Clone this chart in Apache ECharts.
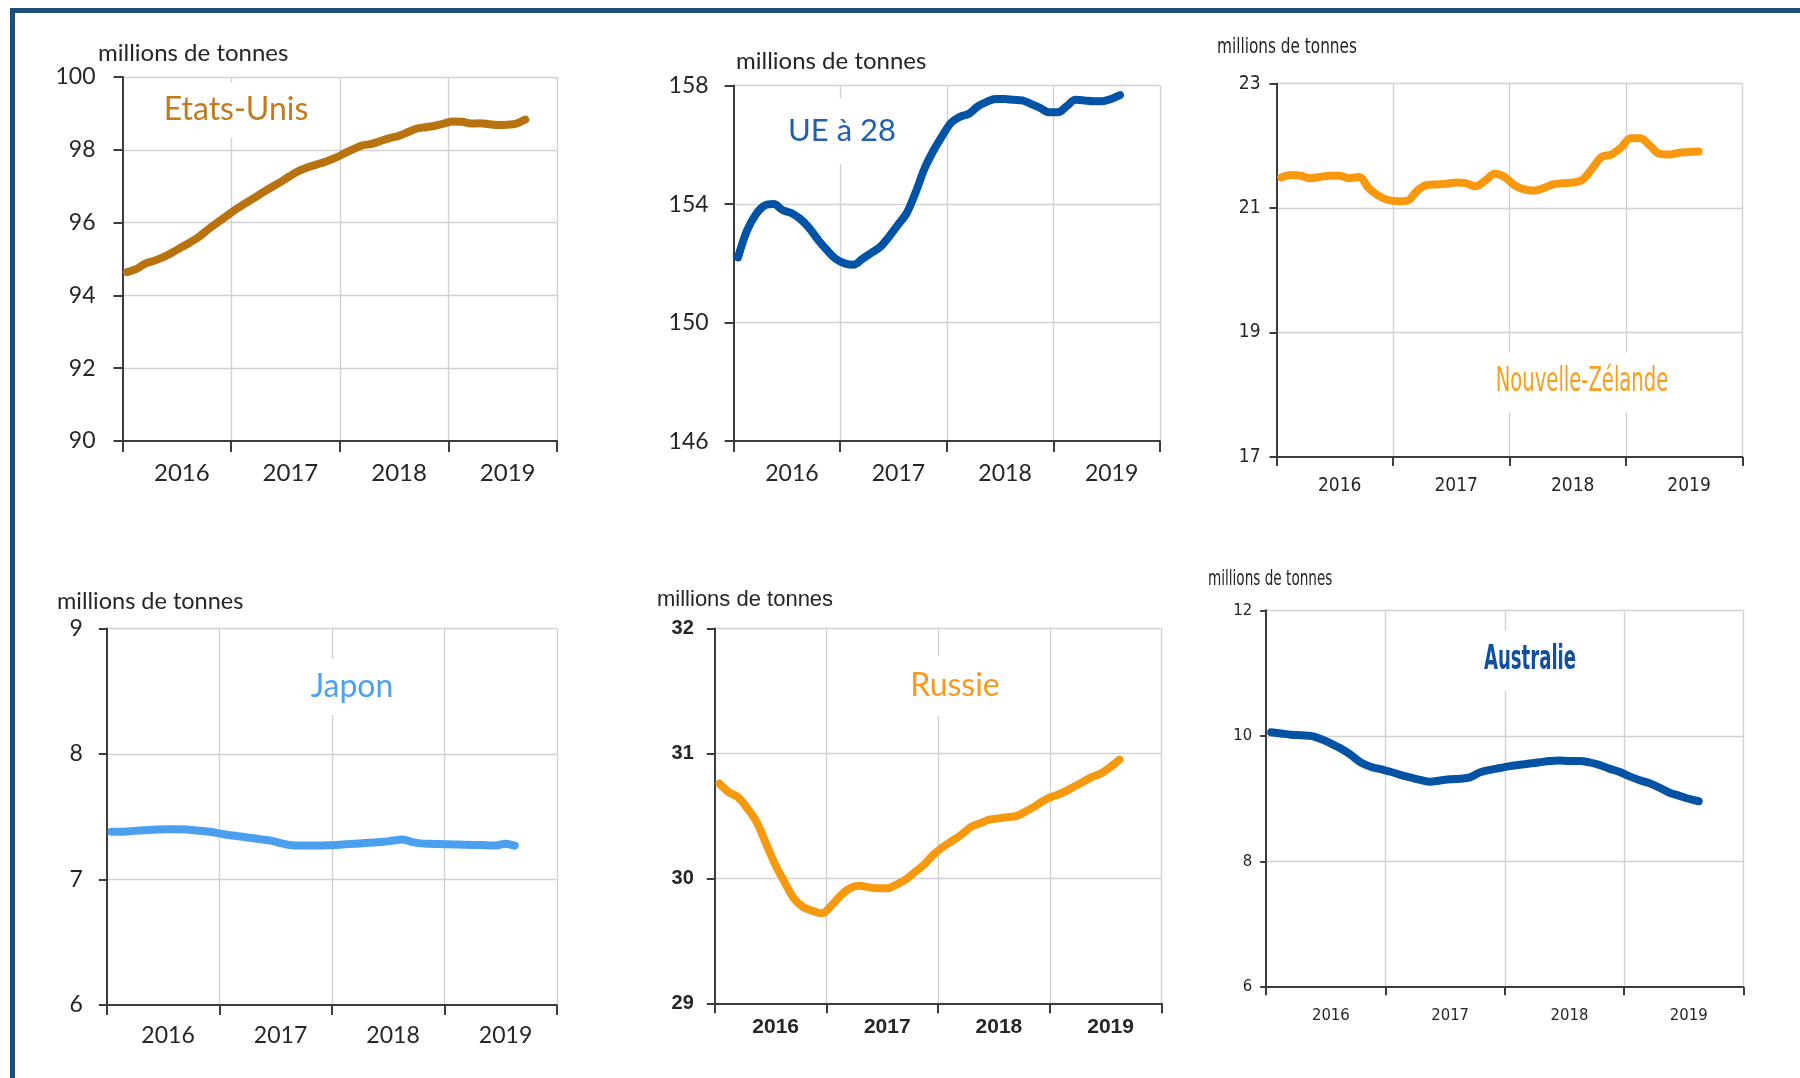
<!DOCTYPE html>
<html>
<head>
<meta charset="utf-8">
<script src="https://cdn.jsdelivr.net/npm/echarts@6/dist/echarts.min.js"></script>
<style>
  html, body { margin: 0; padding: 0; background: #fff; }
  #chart { width: 1800px; height: 1078px; }
</style>
</head>
<body>
<div id="chart"></div>
<script>
// années affichées sous l'axe (une case = 12 mois)
const annees = ['2016', '2017', '2018', '2019']

// valeurs mensuelles à partir de janvier 2016, en millions de tonnes
const etatsUnis = [94.64, 94.72, 94.87, 94.95, 95.05, 95.18, 95.32, 95.46, 95.62, 95.82, 96.0, 96.18,
  96.36, 96.52, 96.67, 96.83, 96.98, 97.12, 97.28, 97.42, 97.52, 97.6, 97.68, 97.78,
  97.9, 98.02, 98.12, 98.16, 98.24, 98.32, 98.38, 98.48, 98.58, 98.62, 98.66, 98.72,
  98.78, 98.77, 98.72, 98.73, 98.7, 98.68, 98.69, 98.72, 98.83]
const ue28 = [152.2, 153.1, 153.65, 153.95, 154.0, 153.8, 153.7, 153.5, 153.2, 152.8, 152.45, 152.15,
  152.0, 151.95, 152.15, 152.35, 152.55, 152.9, 153.3, 153.7, 154.4, 155.2, 155.8, 156.3,
  156.75, 156.95, 157.05, 157.3, 157.45, 157.55, 157.55, 157.52, 157.5, 157.38, 157.25, 157.1,
  157.1, 157.3, 157.52, 157.5, 157.47, 157.47, 157.55, 157.68]
const nouvelleZelande = [21.49, 21.53, 21.52, 21.48, 21.5, 21.52, 21.52, 21.48, 21.5, 21.32, 21.2, 21.13,
  21.11, 21.12, 21.28, 21.37, 21.38, 21.39, 21.41, 21.4, 21.35, 21.44, 21.55, 21.5,
  21.37, 21.3, 21.28, 21.32, 21.38, 21.4, 21.41, 21.45, 21.63, 21.82, 21.86, 21.97,
  22.12, 22.12, 22.0, 21.87, 21.86, 21.89, 21.9, 21.91]
const japon = [7.38, 7.38, 7.385, 7.39, 7.395, 7.398, 7.4, 7.4, 7.398, 7.39, 7.385, 7.375,
  7.36, 7.35, 7.34, 7.33, 7.32, 7.31, 7.29, 7.275, 7.27, 7.27, 7.27, 7.272,
  7.275, 7.28, 7.285, 7.29, 7.295, 7.3, 7.31, 7.318, 7.3, 7.288, 7.285, 7.282,
  7.28, 7.278, 7.276, 7.275, 7.273, 7.27, 7.285, 7.27]
const russie = [30.76, 30.69, 30.65, 30.56, 30.45, 30.28, 30.11, 29.97, 29.84, 29.77, 29.74, 29.72,
  29.78, 29.86, 29.92, 29.94, 29.93, 29.92, 29.92, 29.95, 29.99, 30.05, 30.11, 30.19,
  30.25, 30.3, 30.35, 30.41, 30.44, 30.47, 30.48, 30.49, 30.5, 30.54, 30.58, 30.63,
  30.66, 30.69, 30.73, 30.77, 30.81, 30.84, 30.89, 30.95]
const australie = [10.06, 10.04, 10.02, 10.01, 10.0, 9.95, 9.88, 9.8, 9.7, 9.58, 9.51, 9.47,
  9.43, 9.38, 9.34, 9.3, 9.27, 9.29, 9.31, 9.32, 9.34, 9.42, 9.46, 9.49,
  9.52, 9.54, 9.56, 9.58, 9.6, 9.61, 9.6, 9.6, 9.58, 9.54, 9.48, 9.43,
  9.36, 9.3, 9.25, 9.18, 9.1, 9.05, 9.0, 8.96]

const unite = 'millions de tonnes'
const LATO = "Lato, 'Open Sans', sans-serif"
const ARIAL = "'Liberation Sans', Arial, sans-serif"
const ETROIT = "'Liberation Sans Narrow', 'DejaVu Sans Condensed', sans-serif"
const texteCouleur = '#262626'
const axeCouleur = '#3c3c3c'
const grilleCouleur = '#d2d2d2'

const panneaux = [
  {
    nom: 'Etats-Unis', valeurs: etatsUnis, min: 90, max: 100, interval: 2,
    couleur: '#b8730e', nomCouleur: '#c27a1e',
    grid: { left: 122.5, top: 77, width: 434.5, height: 364 },
    police: LATO, taille: 23, tailleX: 24, gras: 'normal', margeY: 27, margeX: 20.5, tick: 9,
    titre: { x: 98, y: 53.5, taille: 24, police: LATO, sx: 1 },
    etiquette: { x: 236, y: 110, taille: 32, police: LATO, gras: 'normal', sx: 1, pad: [17, 8, 6, 8] }
  },
  {
    nom: 'UE à 28', valeurs: ue28, min: 146, max: 158, interval: 4,
    couleur: '#0053a5', nomCouleur: '#2260ae',
    grid: { left: 733.6, top: 85.6, width: 426.3, height: 355.5 },
    police: LATO, taille: 23, tailleX: 23, gras: 'normal', margeY: 25, margeX: 20.5, tick: 9,
    titre: { x: 736, y: 61, taille: 24, police: LATO, sx: 1 },
    etiquette: { x: 842, y: 131, taille: 31, police: LATO, gras: 'normal', sx: 1, pad: [29, 8, 6, 8] }
  },
  {
    nom: 'Nouvelle-Zélande', valeurs: nouvelleZelande, min: 17, max: 23, interval: 2,
    couleur: '#f7980e', nomCouleur: '#f99d1c',
    grid: { left: 1276.5, top: 83.6, width: 465.8, height: 373.4 },
    police: ETROIT, taille: 19, tailleX: 19, gras: 'normal', margeY: 16, margeX: 19.5, tick: 7,
    titre: { x: 1217, y: 48, taille: 21, police: ETROIT, sx: 0.81 },
    etiquette: { x: 1582, y: 382.5, taille: 33, police: ETROIT, gras: 'normal', sx: 0.66, pad: [16, 8, 11, 8] }
  },
  {
    nom: 'Japon', valeurs: japon, min: 6, max: 9, interval: 1,
    couleur: '#4a9fee', nomCouleur: '#4da1ef',
    grid: { left: 106.8, top: 628.5, width: 450, height: 376.5 },
    police: LATO, taille: 23, tailleX: 23, gras: 'normal', margeY: 24, margeX: 19, tick: 8,
    titre: { x: 57, y: 601, taille: 23.5, police: LATO, sx: 1 },
    etiquette: { x: 352, y: 687, taille: 32, police: LATO, gras: 'normal', sx: 1, pad: [14, 8, 10, 8] }
  },
  {
    nom: 'Russie', valeurs: russie, min: 29, max: 32, interval: 1,
    couleur: '#f6990f', nomCouleur: '#f79a1a',
    grid: { left: 714.8, top: 628.5, width: 446.6, height: 374.8 },
    police: ARIAL, taille: 20, tailleX: 21, gras: 'bold', margeY: 21, margeX: 13, tick: 8,
    titre: { x: 657, y: 600, taille: 22, police: ARIAL, sx: 1 },
    etiquette: { x: 955, y: 686, taille: 32, police: LATO, gras: 'normal', sx: 1, pad: [17, 8, 11, 8] }
  },
  {
    nom: 'Australie', valeurs: australie, min: 6, max: 12, interval: 2,
    couleur: '#0352a3', nomCouleur: '#10509f',
    grid: { left: 1266.2, top: 610.3, width: 477.2, height: 376.9 },
    police: ETROIT, taille: 16.5, tailleX: 16.5, gras: 'normal', margeY: 14, margeX: 20.5, tick: 6,
    titre: { x: 1208, y: 580, taille: 21, police: ETROIT, sx: 0.72 },
    etiquette: { x: 1530, y: 660.5, taille: 33, police: ETROIT, gras: 'bold', sx: 0.61, pad: [15, 8, 12, 8] }
  }
]

const grids = []
const xAxes = []
const yAxes = []
const series = []
const graphics = [
  // cadre bleu en haut et à gauche
  { type: 'rect', shape: { x: 10, y: 8, width: 1790, height: 5 }, style: { fill: '#1f4e7c' } },
  { type: 'rect', shape: { x: 10, y: 8, width: 5, height: 1070 }, style: { fill: '#1f4e7c' } }
]

panneaux.forEach((p, k) => {
  grids.push(p.grid)

  // axe des années (étiquettes entre les graduations)
  xAxes.push({
    type: 'category', gridIndex: k, data: annees, boundaryGap: true,
    axisLine: { show: true, lineStyle: { color: axeCouleur, width: 2 } },
    axisTick: { show: true, length: p.tick + 2, lineStyle: { color: axeCouleur, width: 2 } },
    axisLabel: {
      margin: p.margeX, color: texteCouleur, fontFamily: p.police, fontSize: p.tailleX,
      fontWeight: p.gras, padding: [0, 0, 0, 10]
    },
    splitLine: { show: true, showMinLine: false, lineStyle: { color: grilleCouleur, width: 1.4 } }
  })
  // axe des mois, invisible, pour placer les points
  xAxes.push({ type: 'value', gridIndex: k, min: 0, max: 48, show: false })

  yAxes.push({
    type: 'value', gridIndex: k, min: p.min, max: p.max, interval: p.interval,
    axisLine: { show: true, lineStyle: { color: axeCouleur, width: 2 } },
    axisTick: { show: true, length: p.tick, lineStyle: { color: axeCouleur, width: 2 } },
    axisLabel: { margin: p.margeY, color: texteCouleur, fontFamily: p.police, fontSize: p.taille, fontWeight: p.gras },
    splitLine: { show: true, showMinLine: false, lineStyle: { color: grilleCouleur, width: 1.4 } }
  })

  series.push({
    name: p.nom, type: 'line', xAxisIndex: 2 * k + 1, yAxisIndex: k,
    data: p.valeurs.map((v, i) => [i + 0.5, v]),
    smooth: 0.35, symbol: 'none',
    lineStyle: { color: p.couleur, width: 8, cap: 'round', join: 'round' },
    z: 5
  })

  graphics.push({
    type: 'text', x: p.titre.x, y: p.titre.y, scaleX: p.titre.sx, z: 50,
    style: { text: unite, fill: texteCouleur, font: `${p.titre.taille}px ${p.titre.police}`, align: 'left', verticalAlign: 'middle' }
  })

  const e = p.etiquette
  graphics.push({
    type: 'text', x: e.x, y: e.y, scaleX: e.sx, z: 50,
    style: {
      text: p.nom, fill: p.nomCouleur, font: `${e.gras} ${e.taille}px ${e.police}`,
      align: 'center', verticalAlign: 'middle', backgroundColor: '#fff', padding: e.pad
    }
  })
})

const chart = echarts.init(document.getElementById('chart'))
chart.setOption({
  animation: false,
  backgroundColor: '#fff',
  grid: grids,
  xAxis: xAxes,
  yAxis: yAxes,
  series: series,
  graphic: graphics
})
</script>
</body>
</html>
